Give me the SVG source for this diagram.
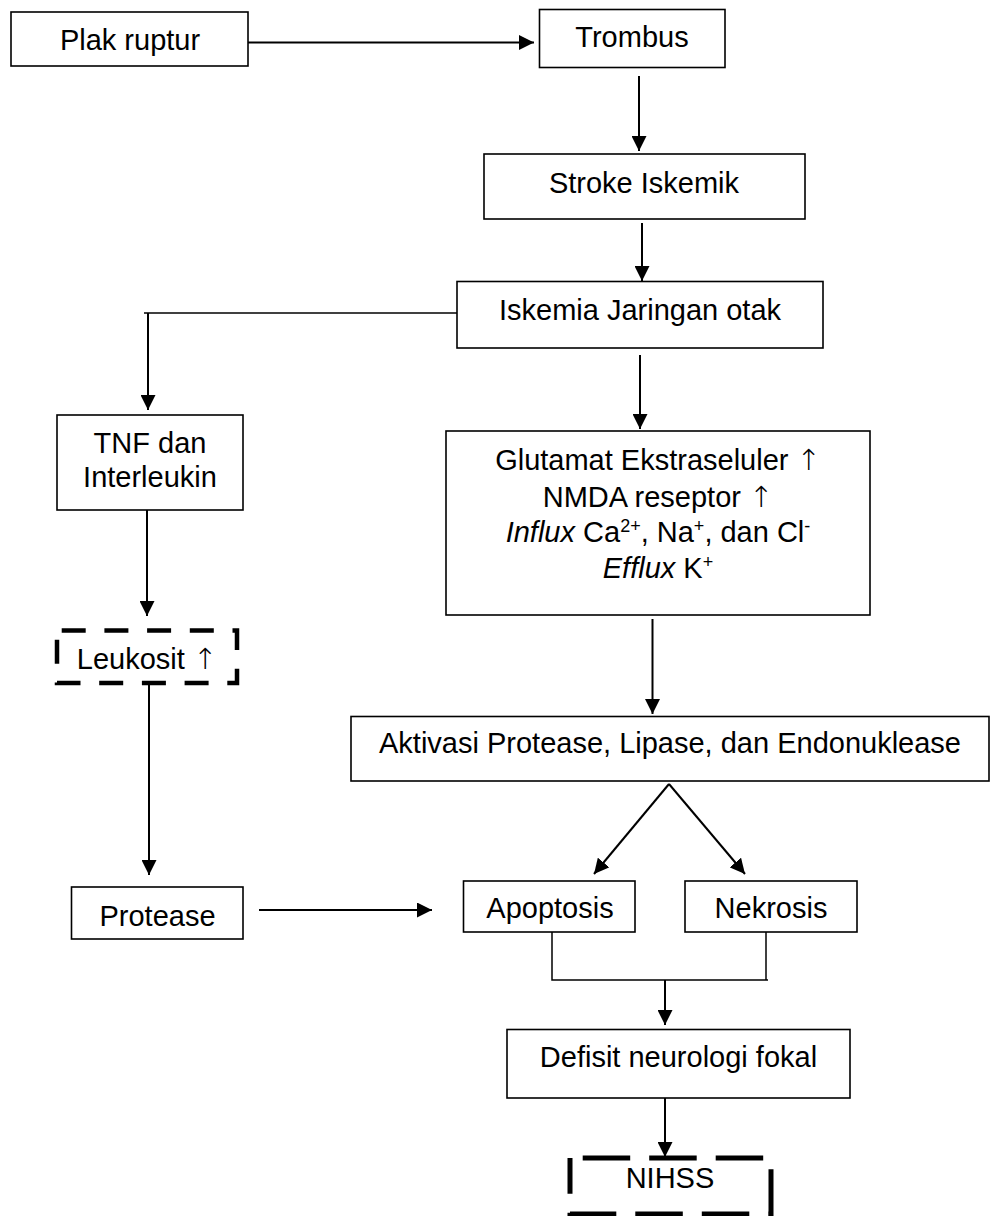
<svg xmlns="http://www.w3.org/2000/svg" width="991" height="1216" viewBox="0 0 991 1216">
<style>
.box{fill:#fff;stroke:#000;stroke-width:1.6}
.dash1{fill:none;stroke:#000;stroke-width:4.5;stroke-dasharray:24 18.7;stroke-dashoffset:38}
.dash2{fill:none;stroke:#000;stroke-width:5;stroke-dasharray:47.5 19;stroke-dashoffset:53.8}
.t{font-family:"Liberation Sans",Arial,sans-serif;font-size:29px;fill:#000;text-anchor:middle}
.up{font-family:"DejaVu Sans","Liberation Sans",sans-serif;font-weight:200;fill:#000}
.c{fill:none;stroke:#000;stroke-width:2}
.thin{fill:none;stroke:#000;stroke-width:1.5}
</style>
<defs>
<marker id="ah" markerUnits="userSpaceOnUse" markerWidth="15" markerHeight="15" refX="15" refY="7.5" orient="auto">
<path d="M0,0 L15,7.5 L0,15 z" fill="#000"/>
</marker>
</defs>
<rect width="991" height="1216" fill="#fff"/>
<g id="connectors">
<line class="c" x1="248" y1="42.5" x2="534" y2="42.5" marker-end="url(#ah)"/>
<line class="c" x1="639" y1="76" x2="639" y2="151" marker-end="url(#ah)"/>
<line class="c" x1="642" y1="223" x2="642" y2="281" marker-end="url(#ah)"/>
<line class="thin" x1="457" y1="313" x2="144" y2="313"/>
<line class="c" x1="148" y1="313" x2="148" y2="410" marker-end="url(#ah)"/>
<line class="c" x1="640" y1="355" x2="640" y2="429" marker-end="url(#ah)"/>
<line class="c" x1="652.5" y1="619" x2="652.5" y2="714" marker-end="url(#ah)"/>
<line class="c" x1="147" y1="510" x2="147" y2="616" marker-end="url(#ah)"/>
<line class="c" x1="149" y1="684" x2="149" y2="875" marker-end="url(#ah)"/>
<line class="c" x1="259" y1="910" x2="432" y2="910" marker-end="url(#ah)"/>
<line class="c" x1="669" y1="784" x2="594" y2="874" marker-end="url(#ah)"/>
<line class="c" x1="669" y1="784" x2="745" y2="874" marker-end="url(#ah)"/>
<polyline class="thin" points="552,932 552,980 768,980"/>
<line class="thin" x1="766" y1="932" x2="766" y2="980"/>
<line class="c" x1="665" y1="980" x2="665" y2="1025" marker-end="url(#ah)"/>
<line class="c" x1="665" y1="1098" x2="665" y2="1157" marker-end="url(#ah)"/>
</g>
<g id="plak"><rect class="box" x="11" y="12" width="237" height="54"/><text class="t" x="130" y="50">Plak ruptur</text></g>
<g id="trombus"><rect class="box" x="539.5" y="9.5" width="185.5" height="58"/><text class="t" x="632" y="47">Trombus</text></g>
<g id="stroke"><rect class="box" x="484" y="154" width="321" height="65"/><text class="t" x="644" y="193">Stroke Iskemik</text></g>
<g id="iskemia"><rect class="box" x="457" y="281.5" width="366" height="66.5"/><text class="t" x="640" y="320">Iskemia Jaringan otak</text></g>
<g id="tnf"><rect class="box" x="57" y="415" width="186" height="95"/><text class="t" x="150" y="453">TNF dan</text><text class="t" x="150" y="487">Interleukin</text></g>
<g id="leukosit"><rect class="dash1" x="57" y="630.5" width="180" height="52.5"/><text class="t" x="147" y="669">Leukosit <tspan class="up">↑</tspan></text></g>
<g id="protease"><rect class="box" x="71.5" y="887" width="171.5" height="52"/><text class="t" x="157.5" y="926">Protease</text></g>
<g id="glutamat"><rect class="box" x="446" y="431" width="424" height="184"/>
<text class="t" x="658" y="470">Glutamat Ekstraseluler <tspan class="up">↑</tspan></text>
<text class="t" x="658" y="507">NMDA reseptor <tspan class="up">↑</tspan></text>
<text class="t" x="658" y="542"><tspan font-style="italic">Influx</tspan> Ca<tspan font-size="18" baseline-shift="super">2+</tspan>, Na<tspan font-size="18" baseline-shift="super">+</tspan>, dan Cl<tspan font-size="18" baseline-shift="super">-</tspan></text>
<text class="t" x="658" y="578"><tspan font-style="italic">Efflux</tspan> K<tspan font-size="18" baseline-shift="super">+</tspan></text>
</g>
<g id="aktivasi"><rect class="box" x="351" y="716.5" width="638" height="64.5"/><text class="t" x="670" y="753">Aktivasi Protease, Lipase, dan Endonuklease</text></g>
<g id="apoptosis"><rect class="box" x="463.5" y="881" width="171.5" height="51"/><text class="t" x="550" y="918">Apoptosis</text></g>
<g id="nekrosis"><rect class="box" x="685" y="881" width="172" height="51"/><text class="t" x="771" y="918">Nekrosis</text></g>
<g id="defisit"><rect class="box" x="507" y="1029.5" width="343" height="68.5"/><text class="t" x="678.5" y="1067">Defisit neurologi fokal</text></g>
<g id="nihss"><rect class="dash2" x="570" y="1158" width="201" height="56"/><text class="t" x="670" y="1188">NIHSS</text></g>
</svg>
